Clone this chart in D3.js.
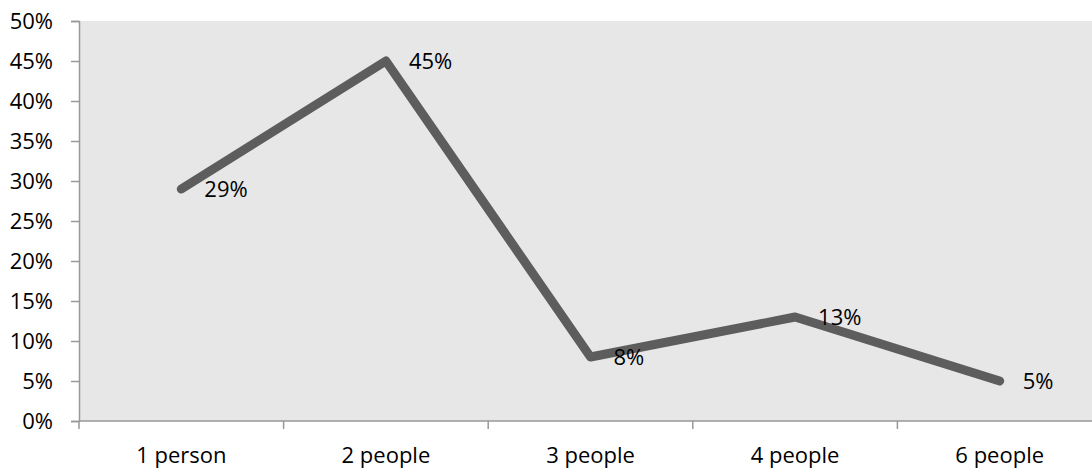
<!DOCTYPE html>
<html><head><meta charset="utf-8">
<script src="https://cdn.jsdelivr.net/npm/d3@7"></script>
<style>body{margin:0;background:#fff}svg{display:block}text{font-family:"Open Sans","Liberation Sans",sans-serif;fill:#000}</style>
</head><body><svg id="c" width="1092" height="468"></svg>
<script>
const categories = ["1 person","2 people","3 people","4 people","6 people"];
const values = [29,45,8,13,5];
const yTicks = [0,5,10,15,20,25,30,35,40,45,50];

const svg = d3.select("#c");
const L = 79, T = 21, B = 421, R = 1102;
const FS = 22;
const x = d3.scaleBand().domain(categories).range([L, R]);
const y = d3.scaleLinear().domain([0,50]).range([B, T]);

svg.append("rect").attr("x", L).attr("y", T).attr("width", R-L).attr("height", B-T).attr("fill", "#e7e7e7");

const yAxis = svg.append("g").attr("transform", `translate(${L},0)`)
  .call(d3.axisLeft(y).tickValues(yTicks).tickFormat(d => d + "%").tickSize(8).tickPadding(18));
const xAxis = svg.append("g").attr("transform", `translate(0,${B})`)
  .call(d3.axisBottom(x).tickSize(0).tickPadding(26));
[yAxis, xAxis].forEach(g => {
  g.attr("font-size", FS).attr("font-family", '"Open Sans", sans-serif');
  g.selectAll("path,line").attr("stroke", "#999").attr("stroke-width", 1.5);
  g.selectAll("text").attr("font-size", FS).attr("fill", "#000");
});
yAxis.selectAll("text").attr("dy", "0.36em");
xAxis.select(".domain").attr("d", `M${L},0H${R}`);
// category boundary ticks
const bounds = categories.map(c => x(c)).concat([R]);
svg.append("g").selectAll("line").data(bounds).join("line")
  .attr("x1", d => d).attr("x2", d => d).attr("y1", B).attr("y2", B + 8)
  .attr("stroke", "#999").attr("stroke-width", 1.5);

const cx = c => x(c) + x.bandwidth()/2;
const line = d3.line().x((d,i) => cx(categories[i])).y(d => y(d));
svg.append("path").datum(values).attr("d", line).attr("fill", "none")
  .attr("stroke", "#5d5d5d").attr("stroke-width", 9).attr("stroke-linecap", "round").attr("stroke-linejoin", "round");

svg.append("g").selectAll("text").data(values).join("text")
  .attr("x", (d,i) => cx(categories[i]) + 23).attr("y", d => y(d))
  .attr("dy", "0.36em").attr("font-size", FS)
  .text(d => d + "%");
</script></body></html>
